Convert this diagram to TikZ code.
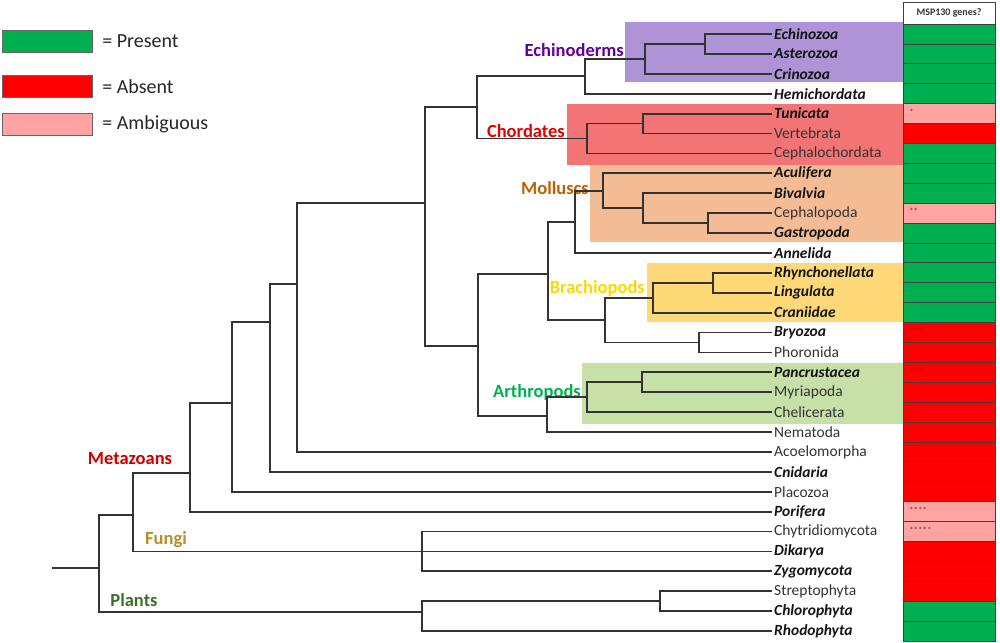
\documentclass[tikz,border=0pt]{standalone}
\usepackage{fontspec}
\setmainfont{Carlito}
\usepackage{tikz}
\usetikzlibrary{positioning}

\definecolor{present}{HTML}{00B050}
\definecolor{absent}{HTML}{FF0000}
\definecolor{ambig}{HTML}{FFA3A3}
\definecolor{starred}{HTML}{8E1E2C}
\definecolor{echinobg}{HTML}{AE93D6}
\definecolor{chordbg}{HTML}{F27474}
\definecolor{mollbg}{HTML}{F4BC94}
\definecolor{brachbg}{HTML}{FFD978}
\definecolor{arthbg}{HTML}{C6E0A8}
\definecolor{fungicol}{HTML}{B58E2A}
\definecolor{plantcol}{HTML}{3F6E2A}

\begin{document}
\begin{tikzpicture}[x=1pt, y=-1pt]
        % Define styles
        \tikzstyle{branch} = [draw=black!80, line width=1.8pt]
        \tikzstyle{taxon} = [anchor=west, inner sep=2pt, text=black!80, font=\fontsize{15.5}{16}\selectfont]
        \tikzstyle{taxonb} = [taxon, text=black!92, font=\fontsize{15.5}{16}\selectfont\bfseries\itshape]
        \tikzstyle{clade} = [inner sep=1pt, font=\fontsize{18.5}{20}\selectfont\bfseries]
        \tikzstyle{cell} = [draw=black!75, line width=0.8pt, minimum width=92pt, minimum height=19.9pt, inner sep=0pt]
        \tikzstyle{stars} = [anchor=west, inner sep=0pt, text=starred, font=\fontsize{9}{9}\selectfont]
        \tikzstyle{keybox} = [draw=black!60, line width=0.8pt, minimum width=90pt, minimum height=22pt, inner sep=0pt, anchor=north west]
        \tikzstyle{keytext} = [anchor=west, text=black!85, font=\fontsize{20}{22}\selectfont]

        \useasboundingbox (0,0) rectangle (1000,642);

        % Clade backgrounds
        \fill[echinobg] (625,22) rectangle (903,82);
        \fill[chordbg] (567,104) rectangle (903,165);
        \fill[mollbg] (590,165) rectangle (903,242);
        \fill[brachbg] (647,263) rectangle (903,322);
        \fill[arthbg] (582,363) rectangle (903,424);

        % Legend
        \node[keybox, fill=present] (keyP) at (2,30) {};
        \node[keytext, right=6pt of keyP] (keyPtext) {= Present};
        \node[keybox, fill=absent] (keyA) at (2,75) {};
        \node[keytext, right=6pt of keyA] (keyAtext) {= Absent};
        \node[keybox, fill=ambig] (keyM) at (2,113) {};
        \node[keytext, right=6pt of keyM] (keyMtext) {= Ambiguous};

        % Clade names
        \node[clade, anchor=east, text=violet!75!blue] (echinoderms) at (625,50) {Echinoderms};
        \node[clade, anchor=east, text=red!90!black] (chordates) at (566,131) {Chordates};
        \node[clade, anchor=east, text=orange!75!black] (molluscs) at (590,188) {Molluscs};
        \node[clade, anchor=east, text=yellow!75!orange] (brachiopods) at (646,288) {Brachiopods};
        \node[clade, anchor=east, text=present] (arthropods) at (582,392) {Arthropods};
        \node[clade, text=red!80!black] (metazoans) at (130,459) {Metazoans};
        \node[clade, text=fungicol] (fungi) at (166,540) {Fungi};
        \node[clade, text=plantcol] (plants) at (134,600) {Plants};

        % Taxa
        \node[taxonb] (echinozoa) at (772,34) {Echinozoa};
        \node[taxonb] (asterozoa) at (772,53.9) {Asterozoa};
        \node[taxonb] (crinozoa) at (772,73.8) {Crinozoa};
        \node[taxonb] (hemichordata) at (772,93.7) {Hemichordata};
        \node[taxonb] (tunicata) at (772,113.6) {Tunicata};
        \node[taxon] (vertebrata) at (772,133.5) {Vertebrata};
        \node[taxon] (cephalochordata) at (772,153.4) {Cephalochordata};
        \node[taxonb] (aculifera) at (772,173.3) {Aculifera};
        \node[taxonb] (bivalvia) at (772,193.2) {Bivalvia};
        \node[taxon] (cephalopoda) at (772,213.1) {Cephalopoda};
        \node[taxonb] (gastropoda) at (772,233) {Gastropoda};
        \node[taxonb] (annelida) at (772,252.9) {Annelida};
        \node[taxonb] (rhynchonellata) at (772,272.8) {Rhynchonellata};
        \node[taxonb] (lingulata) at (772,292.7) {Lingulata};
        \node[taxonb] (craniidae) at (772,312.6) {Craniidae};
        \node[taxonb] (bryozoa) at (772,332.5) {Bryozoa};
        \node[taxon] (phoronida) at (772,352.4) {Phoronida};
        \node[taxonb] (pancrustacea) at (772,372.3) {Pancrustacea};
        \node[taxon] (myriapoda) at (772,392.2) {Myriapoda};
        \node[taxon] (chelicerata) at (772,412.1) {Chelicerata};
        \node[taxon] (nematoda) at (772,432) {Nematoda};
        \node[taxon] (acoelomorpha) at (772,451.9) {Acoelomorpha};
        \node[taxonb] (cnidaria) at (772,471.8) {Cnidaria};
        \node[taxon] (placozoa) at (772,491.7) {Placozoa};
        \node[taxonb] (porifera) at (772,511.6) {Porifera};
        \node[taxon] (chytridiomycota) at (772,531.5) {Chytridiomycota};
        \node[taxonb] (dikarya) at (772,551.4) {Dikarya};
        \node[taxonb] (zygomycota) at (772,571.3) {Zygomycota};
        \node[taxon] (streptophyta) at (772,591.2) {Streptophyta};
        \node[taxonb] (chlorophyta) at (772,611.1) {Chlorophyta};
        \node[taxonb] (rhodophyta) at (772,631) {Rhodophyta};

        % Inner nodes of the tree
        \coordinate (nEA) at (705,44);
        \coordinate (nEch) at (645,59);
        \coordinate (nAmb) at (585,76);
        \coordinate (nTV) at (643,123.5);
        \coordinate (nCho) at (587,138.5);
        \coordinate (nDeu) at (477,107);
        \coordinate (nCG) at (708,223);
        \coordinate (nBCG) at (643,208);
        \coordinate (nMol) at (603,190.7);
        \coordinate (nMA) at (575,221.8);
        \coordinate (nRL) at (713,282.7);
        \coordinate (nBra) at (653,297.7);
        \coordinate (nBP) at (699,342.4);
        \coordinate (nLph) at (605,320);
        \coordinate (nLtz) at (548,274);
        \coordinate (nPM) at (642,382.2);
        \coordinate (nArt) at (587,397);
        \coordinate (nEcd) at (547,416);
        \coordinate (nPro) at (478,346);
        \coordinate (nNeph) at (425,203);
        \coordinate (nBil) at (297,284);
        \coordinate (nCni) at (270,322);
        \coordinate (nPlc) at (232,403);
        \coordinate (nMet) at (190,473);
        \coordinate (nOpi) at (133,515);
        \coordinate (nFun) at (422,551.4);
        \coordinate (nSC) at (660,601);
        \coordinate (nPla) at (422,612);
        \coordinate (root) at (99,568);
        \coordinate (stub) at (52,568);

        % Draw branches
        \draw[branch] (nEA) |- (echinozoa.west);
        \draw[branch] (nEA) |- (asterozoa.west);
        \draw[branch] (nEch) |- (nEA);
        \draw[branch] (nEch) |- (crinozoa.west);
        \draw[branch] (nAmb) |- (nEch);
        \draw[branch] (nAmb) |- (hemichordata.west);
        \draw[branch] (nTV) |- (tunicata.west);
        \draw[branch] (nTV) |- (vertebrata.west);
        \draw[branch] (nCho) |- (nTV);
        \draw[branch] (nCho) |- (cephalochordata.west);
        \draw[branch] (nDeu) |- (nAmb);
        \draw[branch] (nDeu) |- (nCho);
        \draw[branch] (nCG) |- (cephalopoda.west);
        \draw[branch] (nCG) |- (gastropoda.west);
        \draw[branch] (nBCG) |- (bivalvia.west);
        \draw[branch] (nBCG) |- (nCG);
        \draw[branch] (nMol) |- (aculifera.west);
        \draw[branch] (nMol) |- (nBCG);
        \draw[branch] (nMA) |- (nMol);
        \draw[branch] (nMA) |- (annelida.west);
        \draw[branch] (nRL) |- (rhynchonellata.west);
        \draw[branch] (nRL) |- (lingulata.west);
        \draw[branch] (nBra) |- (nRL);
        \draw[branch] (nBra) |- (craniidae.west);
        \draw[branch] (nBP) |- (bryozoa.west);
        \draw[branch] (nBP) |- (phoronida.west);
        \draw[branch] (nLph) |- (nBra);
        \draw[branch] (nLph) |- (nBP);
        \draw[branch] (nLtz) |- (nMA);
        \draw[branch] (nLtz) |- (nLph);
        \draw[branch] (nPM) |- (pancrustacea.west);
        \draw[branch] (nPM) |- (myriapoda.west);
        \draw[branch] (nArt) |- (nPM);
        \draw[branch] (nArt) |- (chelicerata.west);
        \draw[branch] (nEcd) |- (nArt);
        \draw[branch] (nEcd) |- (nematoda.west);
        \draw[branch] (nPro) |- (nLtz);
        \draw[branch] (nPro) |- (nEcd);
        \draw[branch] (nNeph) |- (nDeu);
        \draw[branch] (nNeph) |- (nPro);
        \draw[branch] (nBil) |- (nNeph);
        \draw[branch] (nBil) |- (acoelomorpha.west);
        \draw[branch] (nCni) |- (nBil);
        \draw[branch] (nCni) |- (cnidaria.west);
        \draw[branch] (nPlc) |- (nCni);
        \draw[branch] (nPlc) |- (placozoa.west);
        \draw[branch] (nMet) |- (nPlc);
        \draw[branch] (nMet) |- (porifera.west);
        \draw[branch] (nOpi) |- (nMet);
        \draw[branch] (nOpi) |- (nFun);
        \draw[branch] (nFun) |- (chytridiomycota.west);
        \draw[branch] (nFun) |- (dikarya.west);
        \draw[branch] (nFun) |- (zygomycota.west);
        \draw[branch] (nSC) |- (streptophyta.west);
        \draw[branch] (nSC) |- (chlorophyta.west);
        \draw[branch] (nPla) |- (nSC);
        \draw[branch] (nPla) |- (rhodophyta.west);
        \draw[branch] (root) |- (nOpi);
        \draw[branch] (root) |- (nPla);
        \draw[branch] (stub) -- (root);

        % MSP130 column
        \node[cell, fill=white, minimum height=22pt, font=\fontsize{10}{10}\selectfont\bfseries, text=black!80] (head) at (949,13) {MSP130 genes?};
        \node[cell, fill=present] (c0) at (949,34) {};
        \node[cell, fill=present] (c1) at (949,53.9) {};
        \node[cell, fill=present] (c2) at (949,73.8) {};
        \node[cell, fill=present] (c3) at (949,93.7) {};
        \node[cell, fill=ambig] (c4) at (949,113.6) {};
        \node[cell, fill=absent] (c5) at (949,133.5) {};
        \node[cell, fill=present] (c6) at (949,153.4) {};
        \node[cell, fill=present] (c7) at (949,173.3) {};
        \node[cell, fill=present] (c8) at (949,193.2) {};
        \node[cell, fill=ambig] (c9) at (949,213.1) {};
        \node[cell, fill=present] (c10) at (949,233) {};
        \node[cell, fill=present] (c11) at (949,252.9) {};
        \node[cell, fill=present] (c12) at (949,272.8) {};
        \node[cell, fill=present] (c13) at (949,292.7) {};
        \node[cell, fill=present] (c14) at (949,312.6) {};
        \node[cell, fill=absent] (c15) at (949,332.5) {};
        \node[cell, fill=absent] (c16) at (949,352.4) {};
        \node[cell, fill=absent] (c17) at (949,372.3) {};
        \node[cell, fill=absent] (c18) at (949,392.2) {};
        \node[cell, fill=absent] (c19) at (949,412.1) {};
        \node[cell, fill=absent] (c20) at (949,432) {};
        \node[cell, fill=absent] (c21) at (949,451.9) {};
        \node[cell, fill=absent] (c22) at (949,471.8) {};
        \node[cell, fill=absent] (c23) at (949,491.7) {};
        \node[cell, fill=ambig] (c24) at (949,511.6) {};
        \node[cell, fill=ambig] (c25) at (949,531.5) {};
        \node[cell, fill=absent] (c26) at (949,551.4) {};
        \node[cell, fill=absent] (c27) at (949,571.3) {};
        \node[cell, fill=absent] (c28) at (949,591.2) {};
        \node[cell, fill=present] (c29) at (949,611.1) {};
        \node[cell, fill=present] (c30) at (949,631) {};

        % Footnote marks
        \node[stars] (s4) at (909,112) {*};
        \node[stars] (s9) at (909,211.5) {**};
        \node[stars] (s15) at (909,331) {***};
        \node[stars] (s17) at (909,371) {***};
        \node[stars] (s24) at (909,510) {****};
        \node[stars] (s25) at (909,530) {*****};
    \end{tikzpicture}
\end{document}
